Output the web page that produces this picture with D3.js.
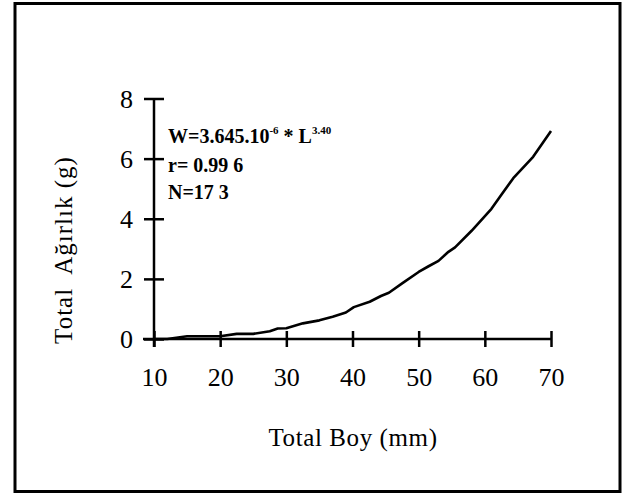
<!DOCTYPE html>
<html>
<head>
<meta charset="utf-8">
<script src="https://cdn.jsdelivr.net/npm/d3@7"></script>
<style>
  html, body { margin: 0; padding: 0; background: #fff; }
  svg text { font-family: "Liberation Serif", "Times New Roman", serif; fill: #000; white-space: pre; }
</style>
</head>
<body>
<svg id="chart" width="626" height="495"></svg>
<script>
// Data
const lengths = [10, 12, 15, 20, 22.5, 25, 27.5, 28.7, 30, 32.5, 35, 37, 39, 40.2, 42.6, 44.3, 45.5, 47.5, 50, 51.5, 53, 54.5, 55.5, 58, 61, 62.5, 64.3, 67.3, 70];
const weights = [0, 0, 0.09, 0.09, 0.17, 0.17, 0.26, 0.35, 0.36, 0.52, 0.62, 0.74, 0.88, 1.06, 1.24, 1.43, 1.54, 1.85, 2.23, 2.42, 2.6, 2.9, 3.05, 3.6, 4.33, 4.8, 5.35, 6.06, 6.92];
const xTicks = [10, 20, 30, 40, 50, 60, 70];
const yTicks = [0, 2, 4, 6, 8];
const xTitle = "Total Boy (mm)";
const yTitle = "Total  Ağırlık (g)";

const svg = d3.select("#chart");

// Outer frame
svg.append("rect")
  .attr("x", 15).attr("y", 3.5).attr("width", 605).attr("height", 488)
  .attr("fill", "none").attr("stroke", "#000").attr("stroke-width", 3);

const x = d3.scaleLinear().domain([10, 70]).range([154, 551]);
const y = d3.scaleLinear().domain([0, 8]).range([339, 98.5]);

// X axis
const xAxis = svg.append("g").attr("transform", `translate(0,${y(0)})`)
  .call(d3.axisBottom(x).tickValues(xTicks).tickSize(0).tickPadding(0).tickFormat(d3.format("d")));
xAxis.select(".domain").remove();
svg.append("line")
  .attr("x1", x(10) - 11).attr("x2", x(70)).attr("y1", y(0)).attr("y2", y(0))
  .attr("stroke", "#000").attr("stroke-width", 2.5);
xAxis.selectAll(".tick").append("line")
  .attr("y1", -8).attr("y2", 8).attr("stroke", "#000").attr("stroke-width", 2.5);
xAxis.selectAll(".tick text")
  .attr("y", 47).attr("dy", 0)
  .style("font-size", "26px");

// Y axis
const yAxis = svg.append("g").attr("transform", `translate(${x(10)},0)`)
  .call(d3.axisLeft(y).tickValues(yTicks).tickSize(0).tickPadding(0).tickFormat(d3.format("d")));
yAxis.select(".domain").remove();
svg.append("line")
  .attr("x1", x(10)).attr("x2", x(10)).attr("y1", y(8)).attr("y2", y(0) + 8)
  .attr("stroke", "#000").attr("stroke-width", 2.5);
yAxis.selectAll(".tick").append("line")
  .attr("x1", -10).attr("x2", 10).attr("stroke", "#000").attr("stroke-width", 2.5);
yAxis.selectAll(".tick text")
  .attr("x", -21).attr("dy", "0.34em")
  .style("font-size", "26px");

// Curve
const pts = lengths.map((l, i) => [l, weights[i]]);
svg.append("path")
  .datum(pts)
  .attr("fill", "none").attr("stroke", "#000").attr("stroke-width", 2.6)
  .attr("stroke-linejoin", "round")
  .attr("d", d3.line().x(d => x(d[0])).y(d => y(d[1])));

// Equation annotation
const eq = svg.append("text").attr("x", 168).attr("y", 143)
  .style("font-size", "20px").style("font-weight", "bold");
eq.append("tspan").text("W=3.645.10");
eq.append("tspan").attr("dy", -9).style("font-size", "11px").text("-6");
eq.append("tspan").attr("dy", 9).text(" * L");
eq.append("tspan").attr("dy", -9).style("font-size", "11px").text("3.40");

svg.append("text").attr("x", 168).attr("y", 172)
  .style("font-size", "20px").style("font-weight", "bold").text("r= 0.99 6");
svg.append("text").attr("x", 168).attr("y", 199)
  .style("font-size", "20px").style("font-weight", "bold").text("N=17 3");

// Axis titles
svg.append("text").attr("x", 353).attr("y", 446)
  .attr("text-anchor", "middle").style("font-size", "25px").style("letter-spacing", "0.6px").text(xTitle);
svg.append("text")
  .attr("transform", `translate(72,${250}) rotate(-90)`)
  .attr("text-anchor", "middle").style("font-size", "25px").style("letter-spacing", "1px").text(yTitle);
</script>
</body>
</html>
